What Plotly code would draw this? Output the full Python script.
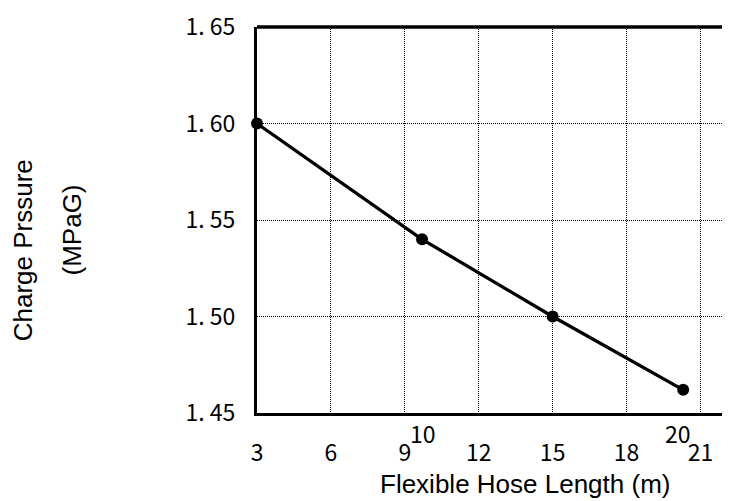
import plotly.graph_objects as go

hose_length = [3, 9.7, 15, 20.3]
pressure = [1.60, 1.54, 1.50, 1.462]
x_ticks = [3, 6, 9, 12, 15, 18, 21]
y_ticks = [1.45, 1.50, 1.55, 1.60, 1.65]
y_tick_text = ["1. 45", "1. 50", "1. 55", "1. 60", "1. 65"]
point_labels = ["10", "20"]
point_label_x = [9.7, 20.3]

fig = go.Figure()
fig.add_trace(go.Scatter(
    x=hose_length, y=pressure, mode="lines+markers",
    line=dict(color="black", width=3.3),
    marker=dict(color="black", size=12),
    showlegend=False, cliponaxis=False,
))

tick_font = dict(family="Noto Sans CJK JP", size=23, color="black")
grid = dict(showgrid=True, gridcolor="black", gridwidth=1, griddash="1px,1px",
            showline=True, linecolor="black", linewidth=3.3, zeroline=False,
            tickfont=tick_font)
fig.update_xaxes(range=[3, 22.2], tickvals=x_ticks, ticktext=[str(v) for v in x_ticks],
                 ticklabelstandoff=17, **grid)
fig.update_yaxes(range=[1.45, 1.65], tickvals=y_ticks, ticktext=y_tick_text,
                 ticklabelstandoff=14, **grid)

# top border
fig.add_shape(type="line", xref="paper", yref="paper", x0=0, x1=1, y0=1, y1=1,
              line=dict(color="black", width=3.3))

for lbl, xv, dx in zip(point_labels, point_label_x, [1, -5]):
    fig.add_annotation(x=xv, y=0, xref="x", yref="paper", text=lbl, showarrow=False,
                       xanchor="center", yanchor="middle", yshift=-20, xshift=dx,
                       font=tick_font)

title_font = dict(family="Liberation Sans", size=26, color="black")
fig.add_annotation(text="Flexible Hose Length (m)", x=0.5666, y=-0.185,
                   xref="paper", yref="paper", showarrow=False, font=title_font,
                   xanchor="center", yanchor="middle")
fig.add_annotation(text="Charge Prssure", x=-0.4947, y=0.4215, xref="paper", yref="paper",
                   showarrow=False, textangle=-90, font=title_font,
                   xanchor="center", yanchor="middle")
fig.add_annotation(text="(MPaG)", x=-0.391, y=0.473, xref="paper", yref="paper",
                   showarrow=False, textangle=-90, font=title_font,
                   xanchor="center", yanchor="middle")

fig.update_layout(
    width=722, height=493,
    margin=dict(l=249, r=0, t=19, b=88),
    plot_bgcolor="white", paper_bgcolor="white",
)
fig.write_html("out.html")
